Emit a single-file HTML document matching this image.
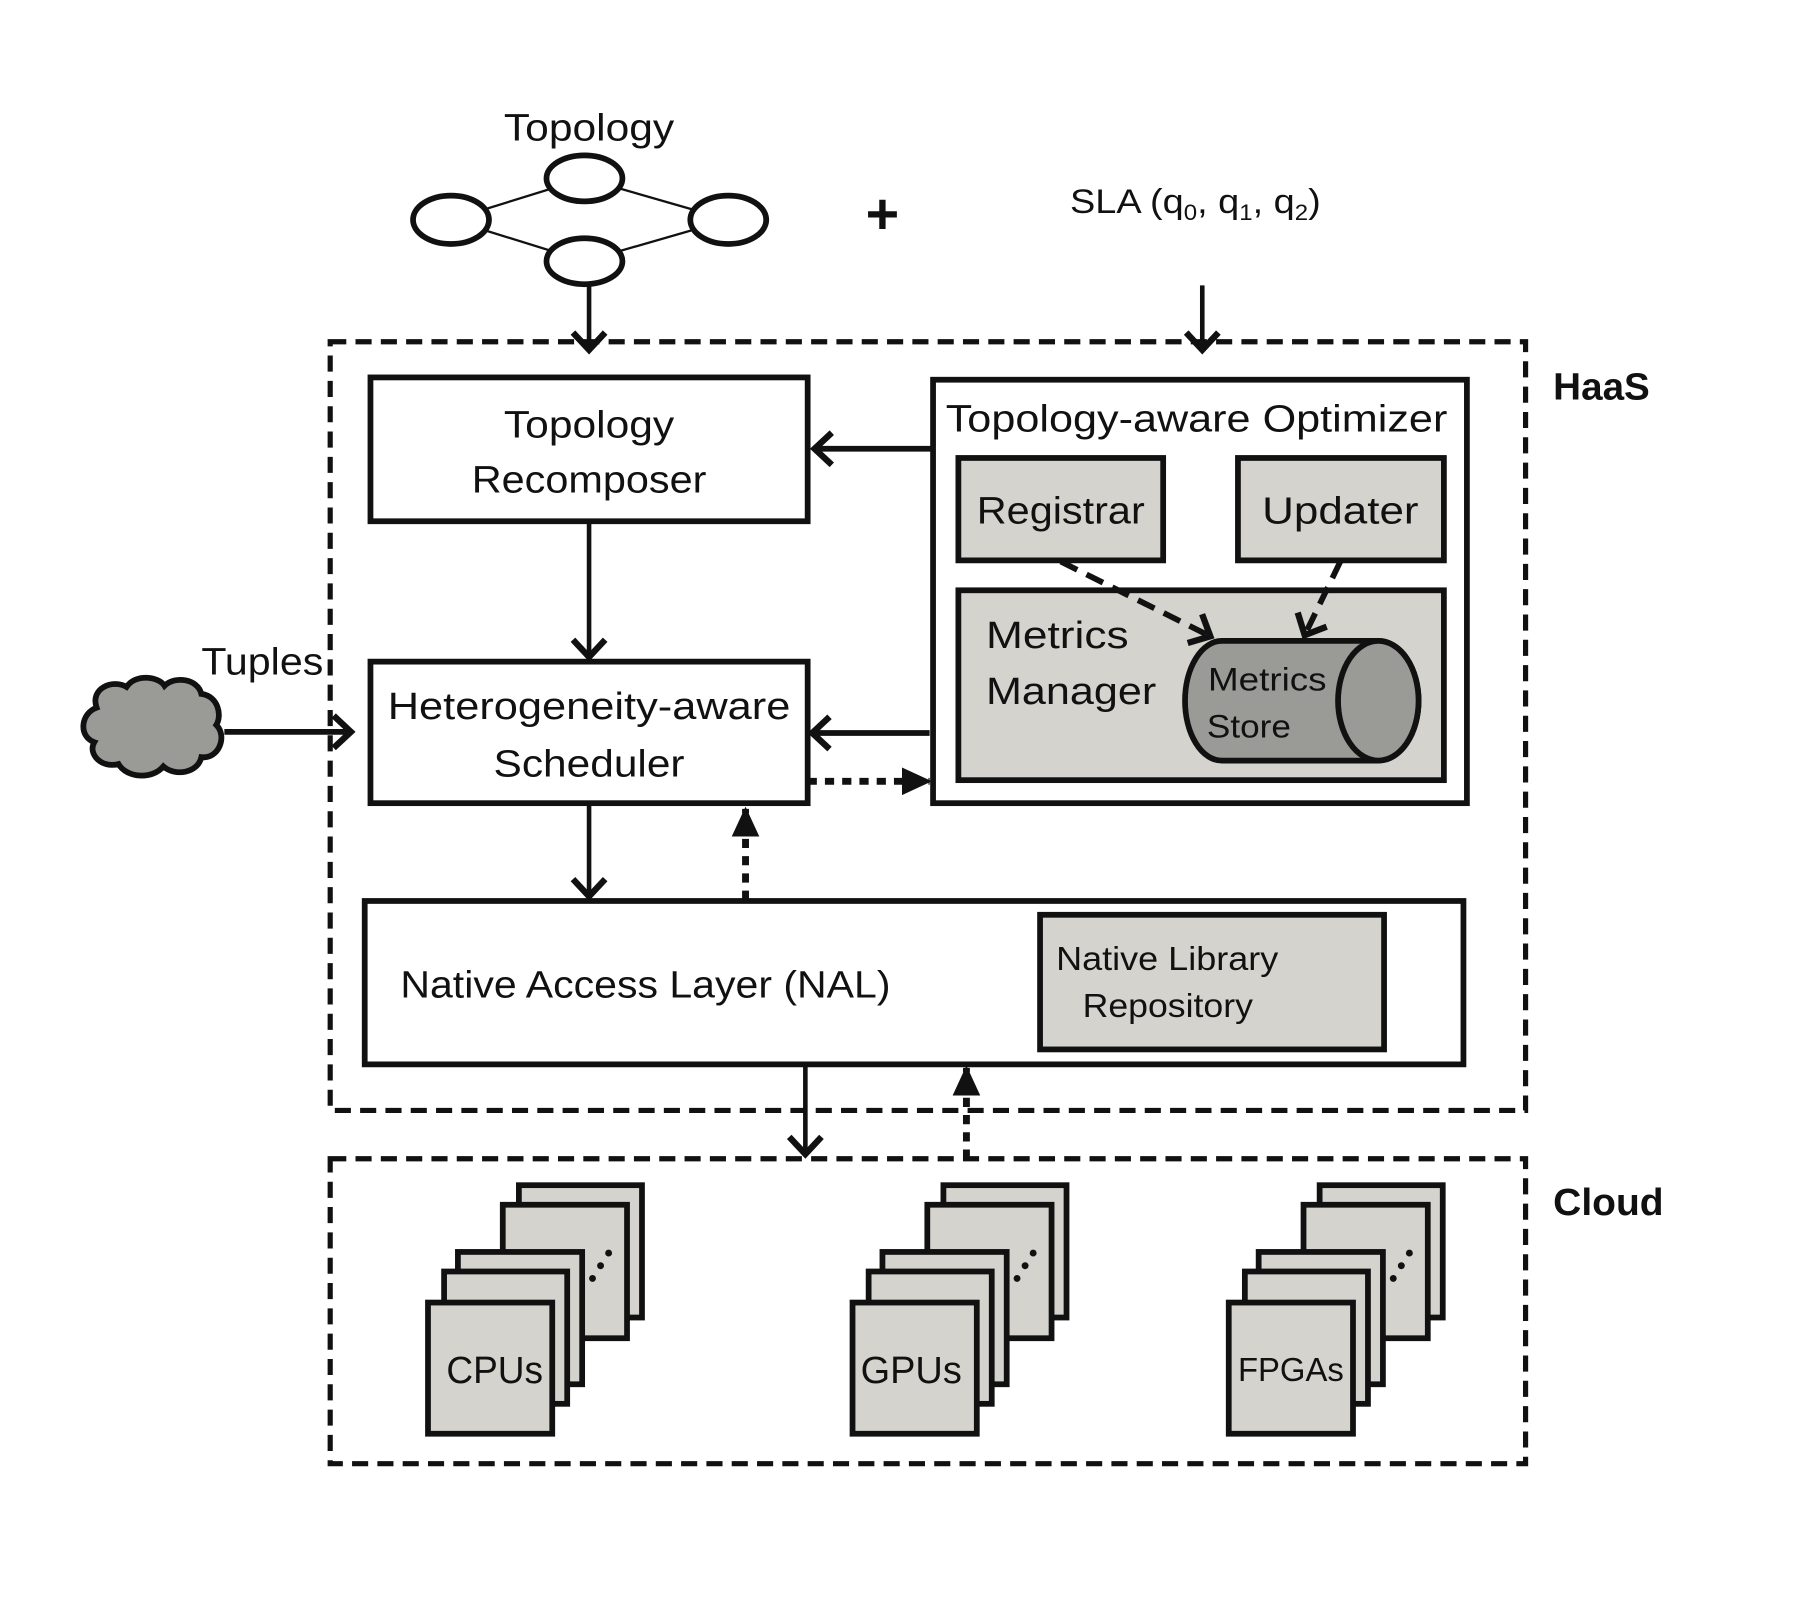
<!DOCTYPE html>
<html><head><meta charset="utf-8"><style>
html,body{margin:0;padding:0;background:#fff;}
svg{display:block;}
text{font-family:"Liberation Sans",sans-serif;fill:#111;}
</style></head><body>
<svg width="1804" height="1619" viewBox="0 0 1568 1407" preserveAspectRatio="none" xmlns="http://www.w3.org/2000/svg">
<defs>
<marker id="chevB" markerWidth="24" markerHeight="34" refX="19" refY="17" orient="auto" markerUnits="userSpaceOnUse">
<path d="M4,3 L19,17 L4,31" fill="none" stroke="#111" stroke-width="5.5"/>
</marker>
<marker id="tri" markerWidth="26" markerHeight="26" refX="24" refY="13" orient="auto" markerUnits="userSpaceOnUse">
<path d="M0,1 L26,13 L0,25 Z" fill="#111"/>
</marker>
</defs>
<g stroke="#111" fill="none">
<line x1="392" y1="191" x2="508" y2="155" stroke-width="2"/>
<line x1="508" y1="155" x2="633" y2="191" stroke-width="2"/>
<line x1="392" y1="191" x2="508" y2="227" stroke-width="2"/>
<line x1="508" y1="227" x2="633" y2="191" stroke-width="2"/>
<g fill="#fff" stroke-width="5">
<ellipse cx="508" cy="155" rx="33" ry="20"/>
<ellipse cx="392" cy="191" rx="33" ry="21"/>
<ellipse cx="633" cy="191" rx="33" ry="21"/>
<ellipse cx="508" cy="227" rx="33" ry="20"/>
</g>
<line x1="512" y1="247" x2="512" y2="304" stroke-width="4" marker-end="url(#chevB)"/>
<line x1="1045" y1="248" x2="1045" y2="304" stroke-width="4" marker-end="url(#chevB)"/>
<rect x="287" y="297" width="1039" height="668" stroke-width="4.5" stroke-dasharray="14 8"/>
<rect x="287" y="1007" width="1039" height="265" stroke-width="4.5" stroke-dasharray="14 8"/>
<rect x="322" y="328" width="380" height="125" stroke-width="5" fill="#fff"/>
<rect x="811" y="330" width="464" height="368" stroke-width="5" fill="#fff"/>
<rect x="833" y="398" width="178" height="89" stroke-width="5" fill="#d4d3ce"/>
<rect x="1076" y="398" width="179" height="89" stroke-width="5" fill="#d4d3ce"/>
<rect x="833" y="513" width="422" height="165" stroke-width="5" fill="#d4d3ce"/>
<path d="M1062,557 L1198,557 A35,52 0 0 1 1198,661 L1062,661 A32,52 0 0 1 1062,557 Z" fill="#9a9a96" stroke-width="5"/>
<ellipse cx="1198" cy="609" rx="35" ry="52" fill="#9a9a96" stroke-width="5"/>
<rect x="322" y="575" width="380" height="123" stroke-width="5" fill="#fff"/>
<rect x="317" y="783" width="955" height="142" stroke-width="5" fill="#fff"/>
<rect x="904" y="795" width="299" height="117" stroke-width="5" fill="#d4d3ce"/>
<line x1="811" y1="390" x2="708" y2="390" stroke-width="5" marker-end="url(#chevB)"/>
<line x1="512" y1="453" x2="512" y2="571" stroke-width="4" marker-end="url(#chevB)"/>
<line x1="808" y1="637" x2="706" y2="637" stroke-width="5" marker-end="url(#chevB)"/>
<line x1="702" y1="679" x2="808" y2="679" stroke-width="6" stroke-dasharray="8 7" marker-end="url(#tri)"/>
<line x1="512" y1="700" x2="512" y2="779" stroke-width="4" marker-end="url(#chevB)"/>
<line x1="648" y1="782" x2="648" y2="703" stroke-width="6" stroke-dasharray="8 7" marker-end="url(#tri)"/>
<line x1="700" y1="925" x2="700" y2="1003" stroke-width="4" marker-end="url(#chevB)"/>
<line x1="840" y1="1007" x2="840" y2="928" stroke-width="6" stroke-dasharray="8 7" marker-end="url(#tri)"/>
<line x1="922" y1="488" x2="1052" y2="553" stroke-width="5" stroke-dasharray="16 9" marker-end="url(#chevB)"/>
<line x1="1165" y1="488" x2="1134" y2="552" stroke-width="5" stroke-dasharray="16 9" marker-end="url(#chevB)"/>
<line x1="195" y1="636" x2="305" y2="636" stroke-width="5" marker-end="url(#chevB)"/>
<path d="M84,615 C78,598 98,590 110,597 C118,585 138,588 143,596 C152,587 172,590 175,603 C190,605 193,622 188,630 C198,640 190,660 175,658 C172,672 152,675 142,666 C132,678 110,676 103,664 C88,668 76,655 82,645 C68,640 70,620 84,615 Z" fill="#9a9a96" stroke-width="5"/>
</g>
<g stroke="#111" stroke-width="5" fill="#d4d3ce">
<g id="stk">
<rect x="451" y="1030" width="107" height="115"/>
<rect x="437" y="1047" width="108" height="116"/>
<rect x="398" y="1088" width="108" height="115"/>
<rect x="386" y="1105" width="107" height="115"/>
<rect x="372" y="1132" width="108" height="114"/>
<circle cx="515" cy="1111" r="3" fill="#111" stroke="none"/>
<circle cx="522" cy="1100" r="3" fill="#111" stroke="none"/>
<circle cx="529" cy="1089" r="3" fill="#111" stroke="none"/>
</g>
<use href="#stk" x="369"/>
<use href="#stk" x="696"/>
</g>
<text x="512" y="122" font-size="33" text-anchor="middle" textLength="148" lengthAdjust="spacingAndGlyphs">Topology</text>
<text x="767" y="203" font-size="50" font-weight="bold" text-anchor="middle">+</text>
<text x="930" y="185" font-size="30" textLength="218" lengthAdjust="spacingAndGlyphs">SLA (q<tspan font-size="19" dy="6">0</tspan><tspan dy="-6">, q</tspan><tspan font-size="19" dy="6">1</tspan><tspan dy="-6">, q</tspan><tspan font-size="19" dy="6">2</tspan><tspan dy="-6">)</tspan></text>
<text x="1350" y="347" font-size="33" font-weight="bold" textLength="84" lengthAdjust="spacingAndGlyphs">HaaS</text>
<text x="1350" y="1056" font-size="33" font-weight="bold" textLength="96" lengthAdjust="spacingAndGlyphs">Cloud</text>
<text x="512" y="380" font-size="33" text-anchor="middle" textLength="148" lengthAdjust="spacingAndGlyphs">Topology</text>
<text x="512" y="428" font-size="33" text-anchor="middle" textLength="204" lengthAdjust="spacingAndGlyphs">Recomposer</text>
<text x="822" y="375" font-size="33" textLength="436" lengthAdjust="spacingAndGlyphs">Topology-aware Optimizer</text>
<text x="922" y="455" font-size="33" text-anchor="middle" textLength="146" lengthAdjust="spacingAndGlyphs">Registrar</text>
<text x="1165" y="455" font-size="33" text-anchor="middle" textLength="136" lengthAdjust="spacingAndGlyphs">Updater</text>
<text x="857" y="563" font-size="33" textLength="124" lengthAdjust="spacingAndGlyphs">Metrics</text>
<text x="857" y="612" font-size="33" textLength="148" lengthAdjust="spacingAndGlyphs">Manager</text>
<text x="1050" y="600" font-size="28" textLength="103" lengthAdjust="spacingAndGlyphs">Metrics</text>
<text x="1049" y="641" font-size="28" textLength="73" lengthAdjust="spacingAndGlyphs">Store</text>
<text x="175" y="586" font-size="33" textLength="106" lengthAdjust="spacingAndGlyphs">Tuples</text>
<text x="512" y="625" font-size="33" text-anchor="middle" textLength="350" lengthAdjust="spacingAndGlyphs">Heterogeneity-aware</text>
<text x="512" y="675" font-size="33" text-anchor="middle" textLength="166" lengthAdjust="spacingAndGlyphs">Scheduler</text>
<text x="348" y="867" font-size="33" textLength="426" lengthAdjust="spacingAndGlyphs">Native Access Layer (NAL)</text>
<text x="918" y="843" font-size="29" textLength="193" lengthAdjust="spacingAndGlyphs">Native Library</text>
<text x="941" y="884" font-size="29" textLength="148" lengthAdjust="spacingAndGlyphs">Repository</text>
<text x="430" y="1202" font-size="33" text-anchor="middle" textLength="84" lengthAdjust="spacingAndGlyphs">CPUs</text>
<text x="792" y="1202" font-size="33" text-anchor="middle" textLength="88" lengthAdjust="spacingAndGlyphs">GPUs</text>
<text x="1122" y="1200" font-size="29" text-anchor="middle" textLength="92" lengthAdjust="spacingAndGlyphs">FPGAs</text>
</svg>
</body></html>
